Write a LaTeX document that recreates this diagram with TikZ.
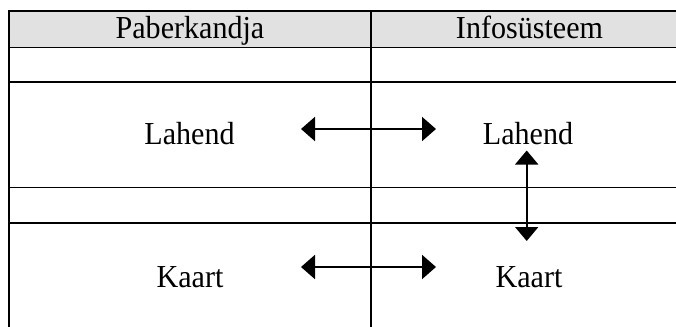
\documentclass[tikz,border=0pt]{standalone}
\usepackage{fontspec}
\setmainfont{Liberation Serif}
\usetikzlibrary{arrows.meta}
\definecolor{hdrgray}{HTML}{E1E1E1}
\newcommand{\celltext}[1]{\scalebox{0.94}[1]{#1}}
\tikzset{
  grid/.style={line width=1.6pt, black},
  cell/.style={inner sep=0pt, anchor=base, font=\fontsize{32}{38}\selectfont},
  biarrow/.style={line width=2pt, {Triangle[length=14pt,width=24pt]}-{Triangle[length=14pt,width=24pt]}},
  varrow/.style={line width=1.8pt, {Triangle[length=14pt,width=23pt]}-{Triangle[length=14pt,width=23pt]}}
}
\begin{document}
\begin{tikzpicture}[x=1pt,y=-1pt]
\useasboundingbox (0,0) rectangle (676,326);
\clip (0,0) rectangle (676,326);
% header background
\fill[hdrgray] (9,11) rectangle (690,47.5);
% table lines
\draw[line width=2.5pt] (9,11) -- (690,11);
\draw[grid] (9,47.5) -- (690,47.5);
\draw[grid] (9,82) -- (690,82);
\draw[grid] (9,187.5) -- (690,187.5);
\draw[grid] (9,223) -- (690,223);
\draw[line width=2pt] (9,10) -- (9,330);
\draw[line width=2pt] (371,10) -- (371,330);
% texts
\node[cell] (h1) at (190,39) {\celltext{Paberkandja}};
\node[cell] (h2) at (529.5,39) {\celltext{Infosüsteem}};
\node[cell] (l1) at (189.5,144) {\celltext{Lahend}};
\node[cell] (l2) at (528,144) {\celltext{Lahend}};
\node[cell] (k1) at (190,287) {\celltext{Kaart}};
\node[cell] (k2) at (529,287) {\celltext{Kaart}};
% arrow end points
\coordinate (la) at (301,129);
\coordinate (lb) at (436,129);
\coordinate (ka) at (301,267);
\coordinate (kb) at (436,267);
\coordinate (va) at (526.7,150.5);
\coordinate (vb) at (526.7,241);
\draw[biarrow] (la) -- (lb);
\draw[biarrow] (ka) -- (kb);
\draw[varrow] (va) -- (vb);
\end{tikzpicture}
\end{document}
